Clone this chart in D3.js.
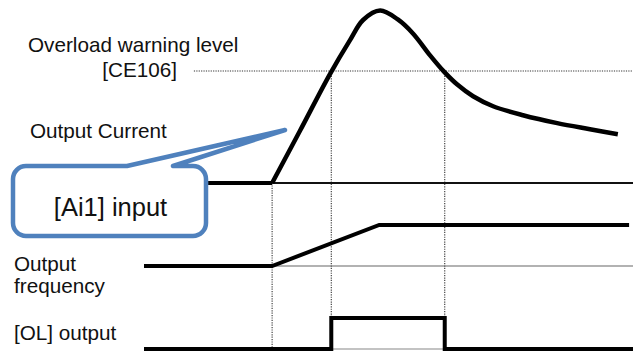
<!DOCTYPE html>
<html>
<head>
<meta charset="utf-8">
<script src="https://cdn.jsdelivr.net/npm/d3@7"></script>
<style>
  html, body { margin: 0; padding: 0; background: #fff; }
  svg { display: block; }
  text { font-family: "Liberation Sans", Arial, sans-serif; fill: #111; }
</style>
</head>
<body>
<svg id="chart" width="633" height="351"></svg>
<script>
// ---- Data (time in % of window, signal values in % of their own range) ----
const currentTimes  = [26.2, 31.9, 38.0, 42.1, 44.8, 48.3, 51.9, 55.0, 58.5, 61.3, 64.0, 67.3, 71.4, 77.5, 84.5, 91.2, 96.9];
const currentValues = [0,    30.3, 63.0, 82.7, 94.5, 100,  94.8, 86.7, 74.0, 64.7, 57.2, 50.3, 44.5, 39.3, 34.7, 31.2, 28.3];
const currentIdle   = [13.1, 26.2];          // thick flat part before start
const warningLevel  = 64.9;                  // [CE106] in current units
const levelLineStart = 10.2;
const startTime     = 26.2;                  // [Ai1] input
const olOnTime      = 38.3;
const olOffTime     = 61.5;
const freqTimes     = [0, 26.2, 48.1, 99.2];
const freqValues    = [0, 0,    100,  100];
const olTimes       = [0, olOnTime, olOffTime, 100];
const olValues      = [0, 1, 0, 0];
const labels = ["Overload warning level", "[CE106]", "Output Current", "Output", "frequency", "[OL] output"];
const calloutText = "[Ai1] input";

// ---- Scales ----
const svg = d3.select("#chart");
const x = d3.scaleLinear().domain([0, 100]).range([144, 633]);
const yCur = d3.scaleLinear().domain([0, 100]).range([183, 10.5]);
const yFreq = d3.scaleLinear().domain([0, 100]).range([266, 225]);
const yOL = d3.scaleLinear().domain([0, 1]).range([349, 318]);

const dotted = { stroke: "#333", "stroke-width": 1.1, "stroke-dasharray": "1.2,1.2" };
function applyAttrs(sel, obj) { Object.entries(obj).forEach(([k, v]) => sel.attr(k, v)); return sel; }

// Dotted guide lines
applyAttrs(svg.append("line")
  .attr("x1", x(levelLineStart)).attr("x2", x(100))
  .attr("y1", yCur(warningLevel)).attr("y2", yCur(warningLevel)), dotted);
applyAttrs(svg.append("line")
  .attr("x1", x(startTime)).attr("x2", x(startTime))
  .attr("y1", yCur(0)).attr("y2", yOL(0)), dotted);
[olOnTime, olOffTime].forEach(t => {
  applyAttrs(svg.append("line")
    .attr("x1", x(t)).attr("x2", x(t))
    .attr("y1", yCur(warningLevel)).attr("y2", yOL(1)), dotted);
});

// Thin baselines
svg.append("line").attr("x1", x(startTime)).attr("x2", x(100))
  .attr("y1", yCur(0)).attr("y2", yCur(0)).attr("stroke", "#111").attr("stroke-width", 1.8);
svg.append("line").attr("x1", x(startTime)).attr("x2", x(100))
  .attr("y1", yFreq(0)).attr("y2", yFreq(0)).attr("stroke", "#666").attr("stroke-width", 1.2);
svg.append("line").attr("x1", x(olOnTime)).attr("x2", x(olOffTime))
  .attr("y1", yOL(0)).attr("y2", yOL(0)).attr("stroke", "#888").attr("stroke-width", 1.2);

// Output current
svg.append("line").attr("x1", x(currentIdle[0])).attr("x2", x(currentIdle[1]))
  .attr("y1", yCur(0)).attr("y2", yCur(0)).attr("stroke", "#000").attr("stroke-width", 4);
const curData = currentTimes.map((t, i) => [t, currentValues[i]]);
svg.append("path").datum(curData)
  .attr("d", d3.line().x(d => x(d[0])).y(d => yCur(d[1])).curve(d3.curveCatmullRom.alpha(0.5)))
  .attr("fill", "none").attr("stroke", "#000").attr("stroke-width", 4.5)
  .attr("stroke-linejoin", "round");

// Output frequency
const freqData = freqTimes.map((t, i) => [t, freqValues[i]]);
svg.append("path").datum(freqData)
  .attr("d", d3.line().x(d => x(d[0])).y(d => yFreq(d[1])))
  .attr("fill", "none").attr("stroke", "#000").attr("stroke-width", 4)
  .attr("stroke-linejoin", "miter");

// OL output
const olData = olTimes.map((t, i) => [t, olValues[i]]);
svg.append("path").datum(olData)
  .attr("d", d3.line().x(d => x(d[0])).y(d => yOL(d[1])).curve(d3.curveStepAfter))
  .attr("fill", "none").attr("stroke", "#000").attr("stroke-width", 4)
  .attr("stroke-linejoin", "miter");

// Labels
const lab = [
  { t: labels[0], x: 28, y: 52, a: "start" },
  { t: labels[1], x: 177, y: 77, a: "end" },
  { t: labels[2], x: 30, y: 138, a: "start" },
  { t: labels[3], x: 14, y: 271, a: "start" },
  { t: labels[4], x: 14, y: 293, a: "start" },
  { t: labels[5], x: 14, y: 340, a: "start" }
];
svg.selectAll("text.lab").data(lab).enter().append("text")
  .attr("class", "lab")
  .attr("x", d => d.x).attr("y", d => d.y)
  .attr("text-anchor", d => d.a)
  .style("font-size", "20.7px")
  .text(d => d.t);

// Callout
const box = { l: 13, t: 166, r: 206, b: 236, rad: 13 };
const ptr = { a: 127, b: 173 };
const tipX = 285, tipY = 130;
const p = d3.path();
p.moveTo(box.l + box.rad, box.t);
p.lineTo(ptr.a, box.t);
p.lineTo(tipX, tipY);
p.lineTo(ptr.b, box.t);
p.lineTo(box.r - box.rad, box.t);
p.arcTo(box.r, box.t, box.r, box.t + box.rad, box.rad);
p.lineTo(box.r, box.b - box.rad);
p.arcTo(box.r, box.b, box.r - box.rad, box.b, box.rad);
p.lineTo(box.l + box.rad, box.b);
p.arcTo(box.l, box.b, box.l, box.b - box.rad, box.rad);
p.lineTo(box.l, box.t + box.rad);
p.arcTo(box.l, box.t, box.l + box.rad, box.t, box.rad);
p.closePath();
svg.append("path").attr("d", p.toString())
  .attr("fill", "#fff").attr("stroke", "#4f81bd").attr("stroke-width", 4.5)
  .attr("stroke-linejoin", "round");
svg.append("text")
  .attr("x", (box.l + box.r) / 2 + 1).attr("y", 216)
  .attr("text-anchor", "middle")
  .style("font-size", "25.5px")
  .text(calloutText);
</script>
</body>
</html>
